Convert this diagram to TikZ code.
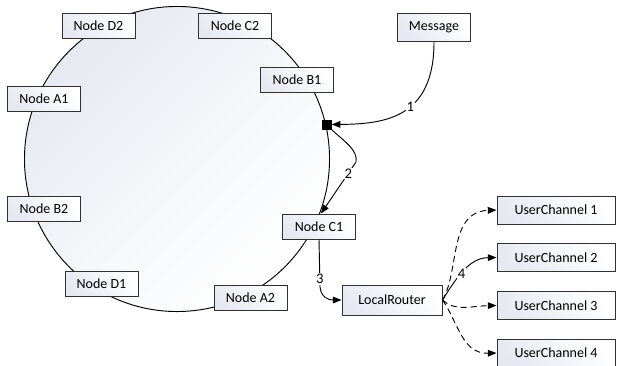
\documentclass[tikz,border=0pt]{standalone}
\usepackage{fontspec}
\setmainfont{Carlito}
\usetikzlibrary{arrows.meta,calc}
\definecolor{ringtint}{HTML}{E6E9F1}
\definecolor{boxtint}{HTML}{E6E9F2}
\definecolor{edge}{HTML}{303030}
\tikzset{
  box/.style={draw=edge, line width=0.75pt, rectangle, top color=white, bottom color=boxtint,
    shading angle=-45, minimum width=54.75pt, minimum height=18.75pt, inner sep=1pt,
    font=\fontsize{10.5}{12}\selectfont},
  widebox/.style={box, minimum width=88.5pt, minimum height=21pt},
  link/.style={line width=0.7pt, draw=black, -{Triangle[length=6.5pt,width=5pt]}},
  dashlink/.style={link, dash pattern=on 4.5pt off 3pt},
  tag/.style={fill=white, inner sep=0.6pt, font=\fontsize{11}{12}\selectfont}
}
\begin{document}
\begin{tikzpicture}[x=0.75pt, y=-0.75pt]
\clip (0,0) rectangle (620,365);
\fill[white] (0,0) rectangle (620,365);

% hash ring
\coordinate (ctr) at (177,159);
\path[draw=black, line width=0.7pt, top color=ringtint, bottom color=white, middle color=white!60!ringtint, shading angle=45]
  (ctr) circle [radius=114.4pt];

% ring members
\node[box] (d2) at (98.5,25.5) {Node D2};
\node[box] (c2) at (235,25.5) {Node C2};
\node[box] (b1) at (297,79.5) {Node B1};
\node[box] (a1) at (44,99) {Node A1};
\node[box] (b2) at (44,208.5) {Node B2};
\node[box] (d1) at (101.5,283.5) {Node D1};
\node[box] (a2) at (250.5,297.5) {Node A2};
\node[box] (c1) at (319,226.5) {Node C1};

% entry point on the ring
\node[fill=black, minimum size=7.5pt, inner sep=0pt] (sq) at (326.5,124.5) {};

% message source and local routing
\node[box, minimum height=21pt] (msg) at (434,27.5) {Message};
\node[box, minimum width=75pt, minimum height=22.5pt] (lr) at (392,300) {LocalRouter};
\node[widebox] (u1) at (556,210) {UserChannel 1};
\node[widebox] (u2) at (556,257.5) {UserChannel 2};
\node[widebox] (u3) at (556,305.5) {UserChannel 3};
\node[widebox] (u4) at (556,353) {UserChannel 4};

% step 1: message hashed onto the ring
\draw[link] (msg.south) .. controls (434,118) and (385,124) .. node[tag, pos=0.43] {1} (sq.east);

% step 2: walk to the owning node
\coordinate (k2) at (356,162);
\draw[link] (sq.south east) .. controls (345,142) and (358,150) .. (k2)
  -- node[tag, pos=0.22] {2} ($(c1.north)+(2,0)$);

% step 3: hand over to the local router
\coordinate (k3) at (320,287);
\draw[link] (c1.south) -- node[tag, pos=0.83] {3} (k3) .. controls (321,297) and (328,300) .. (lr.west);

% step 4: fan out to the user channels
\draw[link] (lr.east) .. controls (458,275) and (470,258) .. node[tag, pos=0.42] {4} (u2.west);
\draw[dashlink] (lr.east) .. controls (460,270) and (448,212) .. (u1.west);
\draw[dashlink] (lr.east) .. controls (456,312) and (470,306) .. (u3.west);
\draw[dashlink] (lr.east) .. controls (458,322) and (462,354) .. (u4.west);
\end{tikzpicture}
\end{document}
